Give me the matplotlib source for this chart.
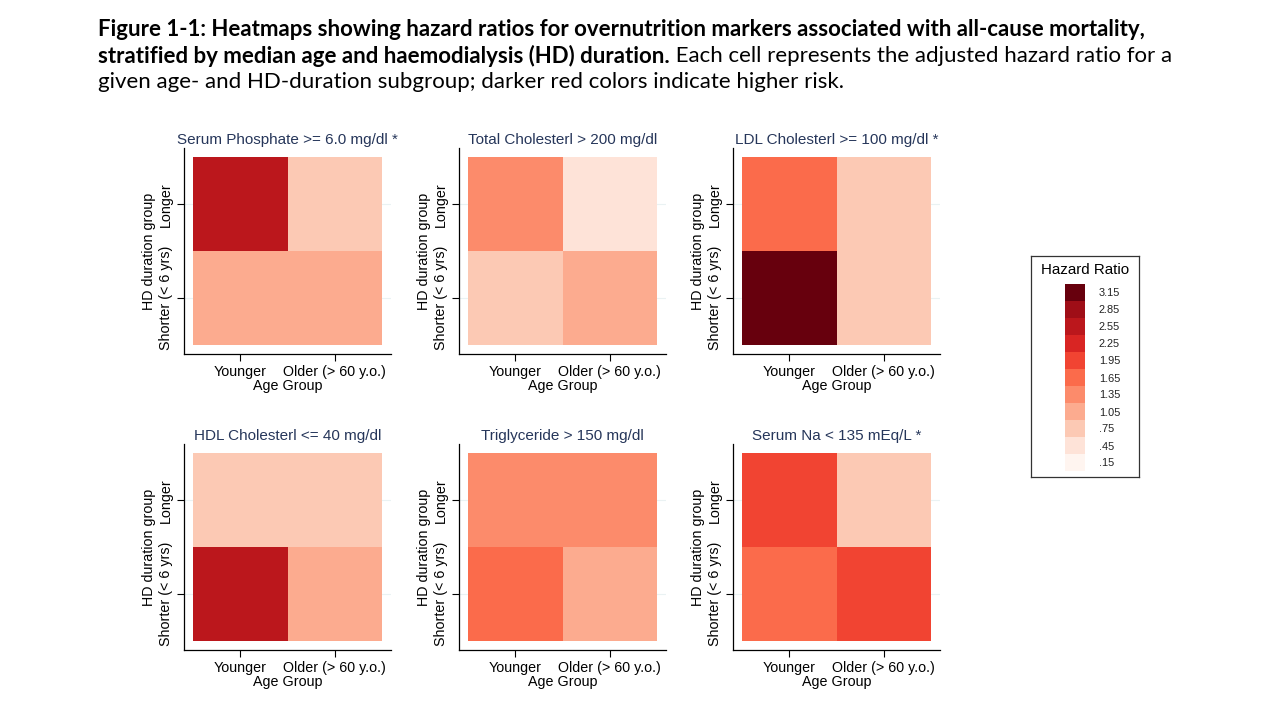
import matplotlib
matplotlib.use("Agg")
import matplotlib.pyplot as plt
from matplotlib.colors import ListedColormap, BoundaryNorm

# categorias
age_groups = ["Younger", "Older (> 60 y.o.)"]
hd_groups = ["Shorter (< 6 yrs)", "Longer"]

# hazard ratios: linhas = [Shorter, Longer], colunas = [Younger, Older]
phosphate_hr = [[1.00, 1.00], [2.60, 0.80]]
total_chol_hr = [[0.80, 1.10], [1.40, 0.50]]
ldl_hr = [[3.20, 0.80], [1.70, 0.80]]
hdl_hr = [[2.60, 1.00], [0.80, 0.80]]
trig_hr = [[1.70, 1.00], [1.40, 1.40]]
sodium_hr = [[1.70, 2.00], [2.00, 0.80]]

panel_titles = ["Serum Phosphate >= 6.0 mg/dl *", "Total Cholesterl > 200 mg/dl",
                "LDL Cholesterl >= 100 mg/dl *", "HDL Cholesterl <= 40 mg/dl",
                "Triglyceride > 150 mg/dl", "Serum Na < 135 mEq/L *"]
panel_data = [phosphate_hr, total_chol_hr, ldl_hr, hdl_hr, trig_hr, sodium_hr]

# legenda (classes de 0.3)
bin_edges = [0.0, 0.3, 0.6, 0.9, 1.2, 1.5, 1.8, 2.1, 2.4, 2.7, 3.0, 3.3]
bin_labels = [".15", ".45", ".75", "1.05", "1.35", "1.65", "1.95", "2.25", "2.55", "2.85", "3.15"]
bin_colors = ["#fff5f0", "#fee3d8", "#fcc9b4", "#fcab8f", "#fc8b6b", "#fb6b4b",
              "#f14432", "#d92523", "#bb171c", "#9f0e17", "#67000d"]

cmap = ListedColormap(bin_colors)
norm = BoundaryNorm(bin_edges, cmap.N)

title_color = "#26365a"
W, H = 1280, 720
fig = plt.figure(figsize=(12.8, 7.2), dpi=100)
plt.rcParams["font.family"] = ["Liberation Sans", "DejaVu Sans"]


def px_rect(left, top, width, height):
    return [left / W, (H - top - height) / H, width / W, height / H]


lefts = [184, 459, 733]
tops = [148, 444]
for i, (title, data) in enumerate(zip(panel_titles, panel_data)):
    row, col = divmod(i, 3)
    ax = fig.add_axes(px_rect(lefts[col], tops[row], 207, 206))
    ax.pcolormesh([-0.5, 0.5, 1.5], [-0.5, 0.5, 1.5], data, cmap=cmap, norm=norm)
    ax.set_xlim(-0.6, 1.6)
    ax.set_ylim(-0.6, 1.6)
    ax.set_xticks([0, 1])
    ax.set_xticklabels(age_groups, fontsize=10.3)
    ax.set_yticks([0, 1])
    ax.set_yticklabels(hd_groups, fontsize=10.3, rotation=90, va="center")
    ax.set_axisbelow(True)
    ax.yaxis.grid(True, color="#eaf2f3", linewidth=0.8)
    ax.tick_params(length=5, width=0.8, color="black", pad=3)
    for s in ["top", "right"]:
        ax.spines[s].set_visible(False)
    for s in ["left", "bottom"]:
        ax.spines[s].set_linewidth(0.9)
        ax.spines[s].set_color("black")
    ax.set_xlabel("Age Group", fontsize=10.3, labelpad=0)
    ax.set_ylabel("HD duration group", fontsize=10.3, labelpad=2)
    ax.set_title(title, fontsize=11.0, color=title_color, pad=3)

# caixa da legenda
box = fig.add_axes(px_rect(1031, 256, 108, 221))
box.set_xticks([])
box.set_yticks([])
for s in box.spines.values():
    s.set_linewidth(0.9)
    s.set_color("#333333")
box.text(0.5, 0.935, "Hazard Ratio", transform=box.transAxes, ha="center", va="center",
         fontsize=10.9)

lax = fig.add_axes(px_rect(1065, 284, 20, 187))
lax.bar([0] * len(bin_colors), [b - a for a, b in zip(bin_edges[:-1], bin_edges[1:])],
        bottom=bin_edges[:-1], width=1, color=bin_colors, align="center")
lax.set_xlim(-0.5, 0.5)
lax.set_ylim(bin_edges[0], bin_edges[-1])
lax.set_xticks([])
lax.yaxis.tick_right()
lax.set_yticks([(a + b) / 2 for a, b in zip(bin_edges[:-1], bin_edges[1:])])
lax.set_yticklabels(bin_labels, fontsize=7.9, color="#222222")
lax.tick_params(axis="y", length=0, pad=10)
for s in lax.spines.values():
    s.set_visible(False)

# titulo da figura (negrito + normal)
cap_font = ["Lato", "DejaVu Sans"]
line1 = "Figure 1-1: Heatmaps showing hazard ratios for overnutrition markers associated with all-cause mortality,"
line2b = "stratified by median age and haemodialysis (HD) duration."
line2r = " Each cell represents the adjusted hazard ratio for a"
line3 = "given age- and HD-duration subgroup; darker red colors indicate higher risk."

renderer = fig.canvas.get_renderer()
probe = fig.text(0, 0, line1, fontsize=14, fontweight="bold", family=cap_font)
w = probe.get_window_extent(renderer).width
probe.remove()
cap_size = 14 * 1050 / w

x0 = 98 / W
fig.text(x0, 1 - 29 / H, line1, fontsize=cap_size, fontweight="bold", family=cap_font, va="center")
t2 = fig.text(x0, 1 - 56 / H, line2b, fontsize=cap_size, fontweight="bold", family=cap_font, va="center")
bw = t2.get_window_extent(renderer).width
fig.text(x0 + bw / W, 1 - 56 / H, line2r, fontsize=cap_size, family=cap_font, va="center")
fig.text(x0, 1 - 82 / H, line3, fontsize=cap_size, family=cap_font, va="center")

fig.savefig("out.png", dpi=100)
